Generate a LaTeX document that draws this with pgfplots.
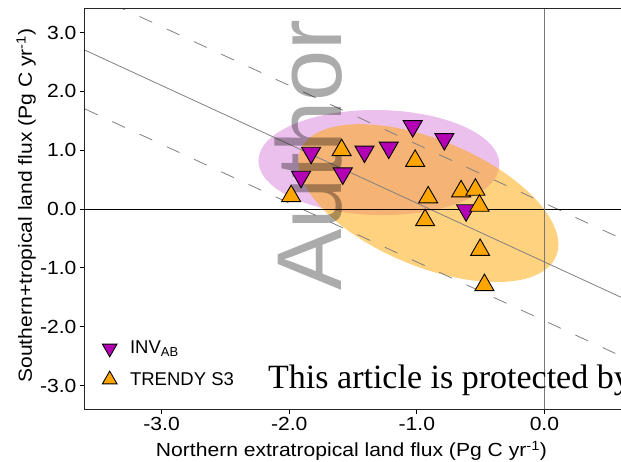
\documentclass[border=0pt]{standalone}
\usepackage{fontspec}
\setmainfont{Liberation Sans}
\newfontfamily\widefont{Liberation Sans}[FakeStretch=1.11]
\newfontfamily\seriffont{Liberation Serif}
\usepackage{pgfplots}
\pgfplotsset{compat=1.18}
\definecolor{invpurple}{HTML}{B400B4}
\definecolor{trorange}{HTML}{FFA500}
\definecolor{ellpurple}{HTML}{C030C0}
\definecolor{refgray}{HTML}{808080}
\begin{document}
\begin{tikzpicture}
\begin{axis}[
  scale only axis, width=536pt, height=400pt,
  xmin=-3.6, xmax=0.6, ymin=-3.4, ymax=3.4,
  axis line style={draw=none},
  xtick={-3,-2,-1,0}, xticklabels={-3.0,-2.0,-1.0,0.0},
  ytick={-3,-2,-1,0,1,2,3}, yticklabels={-3.0,-2.0,-1.0,0.0,1.0,2.0,3.0},
  tick align=outside, major tick length=5pt, tick pos=left,
  tick style={black, line width=0.8pt},
  ticklabel style={font=\widefont\fontsize{19}{22}\selectfont},
  legend style={at={(axis description cs:0.032,0.175)}, anchor=north west, draw=none, fill=none,
    font=\fontsize{18.5}{22}\selectfont, inner sep=0pt, row sep=13pt,
    /tikz/every odd column/.style={column sep=11pt}},
  legend cell align=left,
  legend image code/.code={\draw[#1, mark size=8.5pt] plot coordinates {(0pt,0pt)};},
]
% ellipses
\fill[ellpurple, opacity=0.3, rotate around={-1:(axis cs:-1.297,0.79)}] (axis cs:-1.297,0.79) ellipse [x radius=120.5pt, y radius=52.5pt];
\fill[trorange, opacity=0.5, rotate around={-22.6:(axis cs:-0.91,0.10)}] (axis cs:-0.91,0.10) ellipse [x radius=138.4pt, y radius=63.2pt];
% reference lines
\addplot[forget plot, refgray, line width=0.8pt, dash pattern=on 14pt off 16pt] coordinates {(-3.6,3.7) (0.6,-0.5)};
\addplot[forget plot, refgray, line width=0.8pt, dash pattern=on 14pt off 16pt] coordinates {(-3.6,1.7) (0.6,-2.5)};
\addplot[forget plot, refgray, line width=0.8pt] coordinates {(-3.6,2.7) (0.6,-1.5)};
\addplot[forget plot, black, line width=0.9pt] coordinates {(-3.6,0) (0.6,0)};
\addplot[forget plot, color={rgb,255:red,120;green,120;blue,120}, line width=1.5pt] coordinates {(0,-3.4) (0,3.4)};
% watermark
\node[rotate=90, anchor=base west, inner sep=0pt, text=black, text opacity=0.33, font=\fontsize{92}{100}\selectfont] at (axis cs:-1.591,-1.395) {Author};
% data
\addplot[only marks, mark=triangle*, mark size=11pt, mark options={rotate=180, draw=black, fill=invpurple, line width=0.9pt}] coordinates {
(-1.828,0.956) (-1.907,0.548) (-1.580,0.605) (-1.410,0.976) (-1.220,1.044) (-1.032,1.408) (-0.784,1.189) (-0.614,-0.022)};
\addlegendentry{INV\textsubscript{AB}}
\addplot[only marks, mark=triangle*, mark size=11pt, mark options={draw=black, fill=trorange, line width=0.9pt}] coordinates {
(-1.985,0.219) (-1.589,1.000) (-1.013,0.818) (-0.911,0.197) (-0.935,-0.190) (-0.653,0.300) (-0.541,0.328) (-0.509,0.056) (-0.504,-0.696) (-0.470,-1.294)};
\addlegendentry{TRENDY S3}
\end{axis}
\draw[line width=1pt, black!85] (536pt,400pt) -- (0pt,400pt) -- (0pt,0pt) -- (536pt,0pt);
\node[anchor=base, font=\widefont\fontsize{19}{22}\selectfont] at (266.5pt,-47.7pt) {Northern extratropical land flux (Pg C yr\textsuperscript{-1})};
\node[rotate=90, anchor=base, font=\widefont\fontsize{19}{22}\selectfont] at (-53pt,203.5pt) {Southern+tropical land flux (Pg C yr\textsuperscript{-1})};
\node[anchor=base west, inner sep=0pt, font=\seriffont\fontsize{34}{37}\selectfont] at (183pt,21pt) {This article is protected by};
\pgfresetboundingbox
\path[use as bounding box] (-85pt,-52pt) rectangle (536pt,409pt);
\end{tikzpicture}
\end{document}
